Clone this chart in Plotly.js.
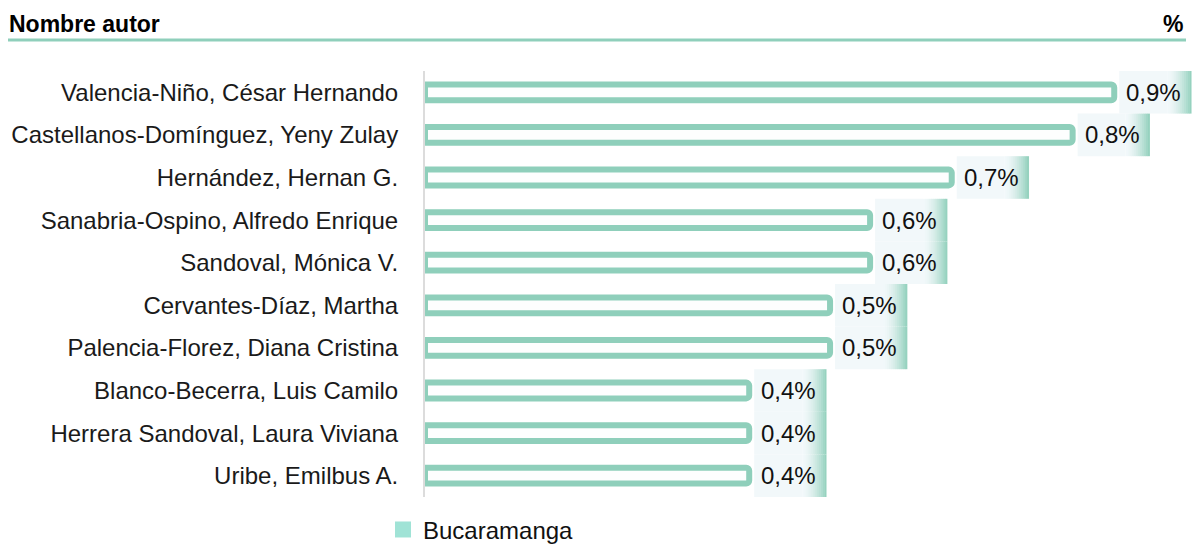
<!DOCTYPE html>
<html><head><meta charset="utf-8">
<script src="https://cdn.plot.ly/plotly-3.0.1.min.js"></script>
<style>html,body{margin:0;padding:0;background:#fff}#c{width:1194px;height:545px}</style>
</head><body><div id="c"></div>
<script>
const authors = [
  "Valencia-Niño, César Hernando",
  "Castellanos-Domínguez, Yeny Zulay",
  "Hernández, Hernan G.",
  "Sanabria-Ospino, Alfredo Enrique",
  "Sandoval, Mónica V.",
  "Cervantes-Díaz, Martha",
  "Palencia-Florez, Diana Cristina",
  "Blanco-Becerra, Luis Camilo",
  "Herrera Sandoval, Laura Viviana",
  "Uribe, Emilbus A."
];
const shares = [0.878, 0.825, 0.671, 0.567, 0.567, 0.516, 0.516, 0.413, 0.413, 0.413];
const shareLabels = ["0,9%", "0,8%", "0,7%", "0,6%", "0,6%", "0,5%", "0,5%", "0,4%", "0,4%", "0,4%"];
const seriesName = "Bucaramanga";
const headerLeft = "Nombre autor";
const headerRight = "%";

const W = 1194, H = 545;
const mL = 425, mR = 2, mT = 71, mB = 48;
const pw = W - mL - mR, ph = H - mT - mB;
const FONT = "Liberation Sans, Arial, sans-serif";
const teal = "#8fcfbb";

const bar = {
  type: "bar", orientation: "h",
  x: shares, y: authors,
  width: 0.37,
  marker: {color: "#fdfefe", line: {color: teal, width: 6}, cornerradius: 3},
  hoverinfo: "none", showlegend: false
};
const legendTrace = {
  type: "scatter", mode: "markers", x: [null], y: [null],
  name: seriesName,
  marker: {symbol: "square", color: "#a0e3d6", size: 22},
  showlegend: true, hoverinfo: "none"
};

const shapes = [];
const annotations = [];
const nSteps = 12;
function mix(a, b, t) {
  const pa = [parseInt(a.slice(1,3),16), parseInt(a.slice(3,5),16), parseInt(a.slice(5,7),16)];
  const pb = [parseInt(b.slice(1,3),16), parseInt(b.slice(3,5),16), parseInt(b.slice(5,7),16)];
  return "rgb(" + pa.map((x, i) => Math.round(x + (pb[i] - x) * t)).join(",") + ")";
}
shares.forEach((v, i) => {
  shapes.push({type: "rect", xref: "x", yref: "y", xsizemode: "pixel", xanchor: v,
    x0: 5, x1: 53, y0: i - 0.5, y1: i + 0.5,
    fillcolor: "#f2f8fa", line: {width: 0}, layer: "below"});
  for (let k = 0; k < nSteps; k++) {
    const t = Math.pow((k + 0.5) / nSteps, 1.6);
    shapes.push({type: "rect", xref: "x", yref: "y", xsizemode: "pixel", xanchor: v,
      x0: 53 + k * 2, x1: 53 + (k + 1) * 2 + 0.3, y0: i - 0.5, y1: i + 0.5,
      fillcolor: mix("#f2f8fa", "#8fcfbb", t), line: {width: 0}, layer: "below"});
  }
  annotations.push({x: v, y: authors[i], xref: "x", yref: "y", text: shareLabels[i],
    showarrow: false, xanchor: "left", xshift: 10, yshift: 0,
    font: {family: FONT, size: 24, color: "#111"}});
});
shapes.push({type: "line", xref: "paper", yref: "paper",
  x0: (8 - mL) / pw, x1: (1186 - mL) / pw, y0: (H - mB - 40) / ph, y1: (H - mB - 40) / ph,
  line: {color: teal, width: 3}});
annotations.push({xref: "paper", yref: "paper", x: (7 - mL) / pw, y: (H - mB - 24) / ph,
  text: "<b>" + headerLeft + "</b>", showarrow: false, xanchor: "left", yanchor: "middle",
  font: {family: FONT, size: 23, color: "#000"}});
annotations.push({xref: "paper", yref: "paper", x: (1185 - mL) / pw, y: (H - mB - 24) / ph,
  text: "<b>" + headerRight + "</b>", showarrow: false, xanchor: "right", yanchor: "middle",
  font: {family: FONT, size: 23, color: "#000"}});

const layout = {
  width: W, height: H,
  margin: {l: mL, r: mR, t: mT, b: mB, pad: 0, autoexpand: false},
  paper_bgcolor: "#fff", plot_bgcolor: "#fff",
  font: {family: FONT, size: 24, color: "#1a1a1a"},
  xaxis: {range: [0, pw / 785], visible: false, fixedrange: true},
  yaxis: {type: "category", autorange: false, range: [9.5, -0.5],
    showline: true, linecolor: "#dcdcdc", linewidth: 2, showgrid: false, zeroline: false,
    ticks: "", ticklabelstandoff: 20, tickfont: {family: FONT, size: 24, color: "#1a1a1a"}},
  showlegend: true,
  legend: {orientation: "h", x: (383 - mL) / pw, xanchor: "left", y: -0.13, yanchor: "bottom",
    font: {family: FONT, size: 24, color: "#111"}, itemwidth: 30, bgcolor: "rgba(0,0,0,0)"},
  shapes: shapes, annotations: annotations
};
Plotly.newPlot("c", [bar, legendTrace], layout, {staticPlot: true, displayModeBar: false});
</script></body></html>
